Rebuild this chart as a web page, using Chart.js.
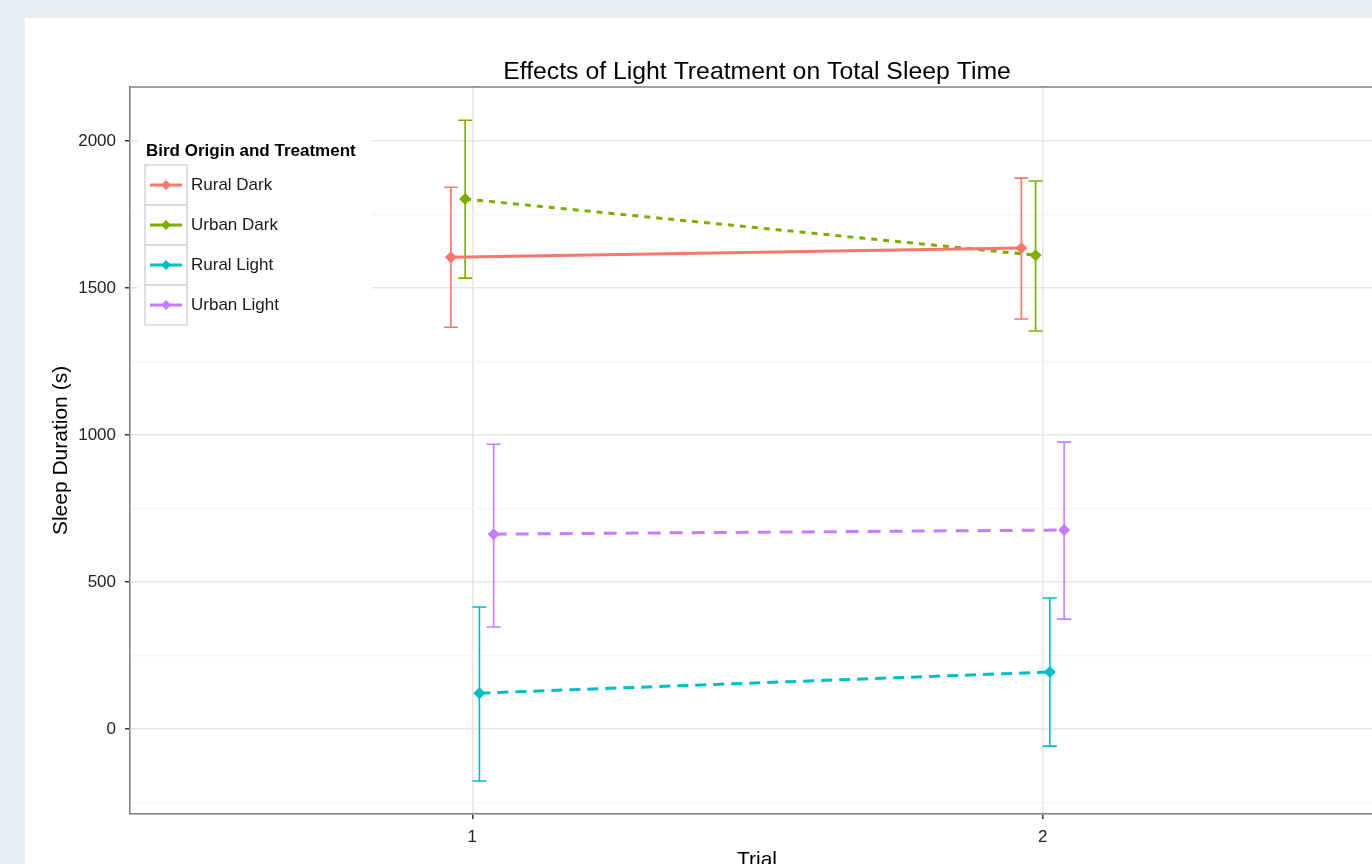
<!DOCTYPE html>
<html>
<head>
<meta charset="utf-8">
<title>Effects of Light Treatment on Total Sleep Time</title>
<script src="https://cdn.jsdelivr.net/npm/chart.js@4.4.1/dist/chart.umd.min.js"></script>
<style>
  html, body { margin: 0; padding: 0; background: #ebeef2; overflow: hidden; }
  #panel { position: absolute; left: 25px; top: 18px; width: 1400px; height: 880px; background: #fff; }
  #chart-container { position: absolute; left: 0; top: 0; }
</style>
</head>
<body>
<div id="panel">
  <div id="chart-container"><canvas id="sleep-chart" width="1400" height="860"></canvas></div>
</div>
<script>
// data
const trials = [1, 2];
const groupNames = ['Rural Dark', 'Urban Dark', 'Rural Light', 'Urban Light'];

const ruralDarkMean = [1605, 1636];
const ruralDarkLow = [1367, 1395];
const ruralDarkHigh = [1843, 1874];

const urbanDarkMean = [1803, 1612];
const urbanDarkLow = [1534, 1354];
const urbanDarkHigh = [2071, 1864];

const ruralLightMean = [122, 194];
const ruralLightLow = [-177, -58];
const ruralLightHigh = [415, 446];

const urbanLightMean = [663, 677];
const urbanLightLow = [347, 374];
const urbanLightHigh = [969, 976];

const yTickValues = [-250, 0, 250, 500, 750, 1000, 1250, 1500, 1750, 2000];
const xTickValues = [1, 2];

// styling
const groupColors = ['#F8766D', '#7CAE00', '#00BFC4', '#C77CFF'];
const groupDashes = [[], [6, 6], [11, 7], [13, 9]];
const dodge = [-0.0375, -0.0125, 0.0125, 0.0375];
const fontFamily = '"Liberation Sans", Arial, sans-serif';

const means = [ruralDarkMean, urbanDarkMean, ruralLightMean, urbanLightMean];
const lows = [ruralDarkLow, urbanDarkLow, ruralLightLow, urbanLightLow];
const highs = [ruralDarkHigh, urbanDarkHigh, ruralLightHigh, urbanLightHigh];

const datasets = groupNames.map(function(name, i) {
    return {
        label: name,
        data: trials.map(function(t, j) { return { x: t + dodge[i], y: means[i][j] }; }),
        borderColor: groupColors[i],
        backgroundColor: groupColors[i],
        borderWidth: 3,
        borderDash: groupDashes[i],
        pointStyle: 'rectRot',
        pointRadius: 6,
        pointHoverRadius: 6,
        pointBorderWidth: 0,
        tension: 0
    };
});

// error bars drawn under the lines
const errorBars = {
    id: 'errorBars',
    beforeDatasetsDraw(chart) {
        const ctx = chart.ctx;
        const x = chart.scales.x;
        const y = chart.scales.y;
        chart.data.datasets.forEach(function(ds, i) {
            ctx.save();
            ctx.strokeStyle = groupColors[i];
            ctx.lineWidth = 1.6;
            ds.data.forEach(function(p, j) {
                const px = x.getPixelForValue(p.x);
                const top = y.getPixelForValue(highs[i][j]);
                const bot = y.getPixelForValue(lows[i][j]);
                ctx.beginPath();
                ctx.moveTo(px, top); ctx.lineTo(px, bot);
                ctx.moveTo(px - 7, top); ctx.lineTo(px + 7, top);
                ctx.moveTo(px - 7, bot); ctx.lineTo(px + 7, bot);
                ctx.stroke();
            });
            ctx.restore();
        });
    }
};

// titles, top border and the inset legend
const decorations = {
    id: 'decorations',
    afterDraw(chart) {
        const ctx = chart.ctx;
        const area = chart.chartArea;
        ctx.save();

        ctx.strokeStyle = '#7f7f7f';
        ctx.lineWidth = 1.5;
        ctx.beginPath();
        ctx.moveTo(area.left, area.top);
        ctx.lineTo(area.right, area.top);
        ctx.stroke();

        ctx.fillStyle = '#000';
        ctx.textAlign = 'center';
        ctx.textBaseline = 'alphabetic';
        ctx.font = '24.8px ' + fontFamily;
        ctx.fillText('Effects of Light Treatment on Total Sleep Time', 732, 61);

        ctx.font = '21px ' + fontFamily;
        ctx.fillText('Trial', 732, 848);

        ctx.save();
        ctx.translate(36, (area.top + area.bottom) / 2);
        ctx.rotate(-Math.PI / 2);
        ctx.textBaseline = 'middle';
        ctx.fillText('Sleep Duration (s)', 0, 0);
        ctx.restore();

        // legend
        ctx.fillStyle = '#fff';
        ctx.fillRect(113, 112, 234, 200);
        ctx.fillStyle = '#000';
        ctx.textAlign = 'left';
        ctx.font = 'bold 17px ' + fontFamily;
        ctx.fillText('Bird Origin and Treatment', 121, 138);

        groupNames.forEach(function(name, i) {
            const top = 147 + i * 40;
            const cy = top + 20;
            ctx.strokeStyle = '#d6d6d6';
            ctx.lineWidth = 1.5;
            ctx.strokeRect(120, top, 42, 40);

            ctx.strokeStyle = groupColors[i];
            ctx.lineWidth = 3;
            ctx.beginPath();
            ctx.moveTo(125, cy);
            ctx.lineTo(157, cy);
            ctx.stroke();
            ctx.fillStyle = groupColors[i];
            ctx.beginPath();
            ctx.moveTo(141, cy - 5); ctx.lineTo(146, cy); ctx.lineTo(141, cy + 5); ctx.lineTo(136, cy);
            ctx.closePath();
            ctx.fill();

            ctx.fillStyle = '#1a1a1a';
            ctx.font = '17px ' + fontFamily;
            ctx.textBaseline = 'middle';
            ctx.fillText(name, 166, cy);
        });
        ctx.restore();
    }
};

const canvas = document.getElementById('sleep-chart');
new Chart(canvas, {
    type: 'line',
    data: { datasets: datasets },
    plugins: [errorBars, decorations],
    options: {
        responsive: false,
        animation: false,
        layout: { padding: { top: 69, left: 0, right: 40, bottom: 0 } },
        plugins: {
            legend: { display: false },
            title: { display: false },
            tooltip: { enabled: false }
        },
        scales: {
            x: {
                type: 'linear',
                min: 0.4,
                max: 2.6,
                afterFit: function(scale) { scale.height = 64; },
                afterBuildTicks: function(scale) {
                    scale.ticks = xTickValues.map(function(v) { return { value: v }; });
                },
                grid: {
                    color: '#e6e6e6',
                    lineWidth: 1.5,
                    tickLength: 5,
                    tickColor: '#333',
                    tickWidth: 1.5
                },
                border: { display: true, color: '#7f7f7f', width: 1.5 },
                ticks: {
                    color: '#222',
                    padding: 8,
                    font: { family: fontFamily, size: 17 },
                    maxRotation: 0
                }
            },
            y: {
                type: 'linear',
                min: -289,
                max: 2184,
                afterFit: function(scale) { scale.width = 105; },
                afterBuildTicks: function(scale) {
                    scale.ticks = yTickValues.map(function(v) { return { value: v }; });
                },
                grid: {
                    color: function(c) { return c.tick && c.tick.value % 500 === 0 ? '#e6e6e6' : '#f5f5f5'; },
                    lineWidth: 1.5,
                    tickLength: 5,
                    tickColor: function(c) { return c.tick && c.tick.value % 500 === 0 ? '#333' : 'rgba(0,0,0,0)'; },
                    tickWidth: 1.5
                },
                border: { display: true, color: '#7f7f7f', width: 1.5 },
                ticks: {
                    color: '#222',
                    padding: 9,
                    font: { family: fontFamily, size: 17 },
                    callback: function(value) { return value % 500 === 0 ? String(value) : ''; }
                }
            }
        }
    }
});
</script>
</body>
</html>
